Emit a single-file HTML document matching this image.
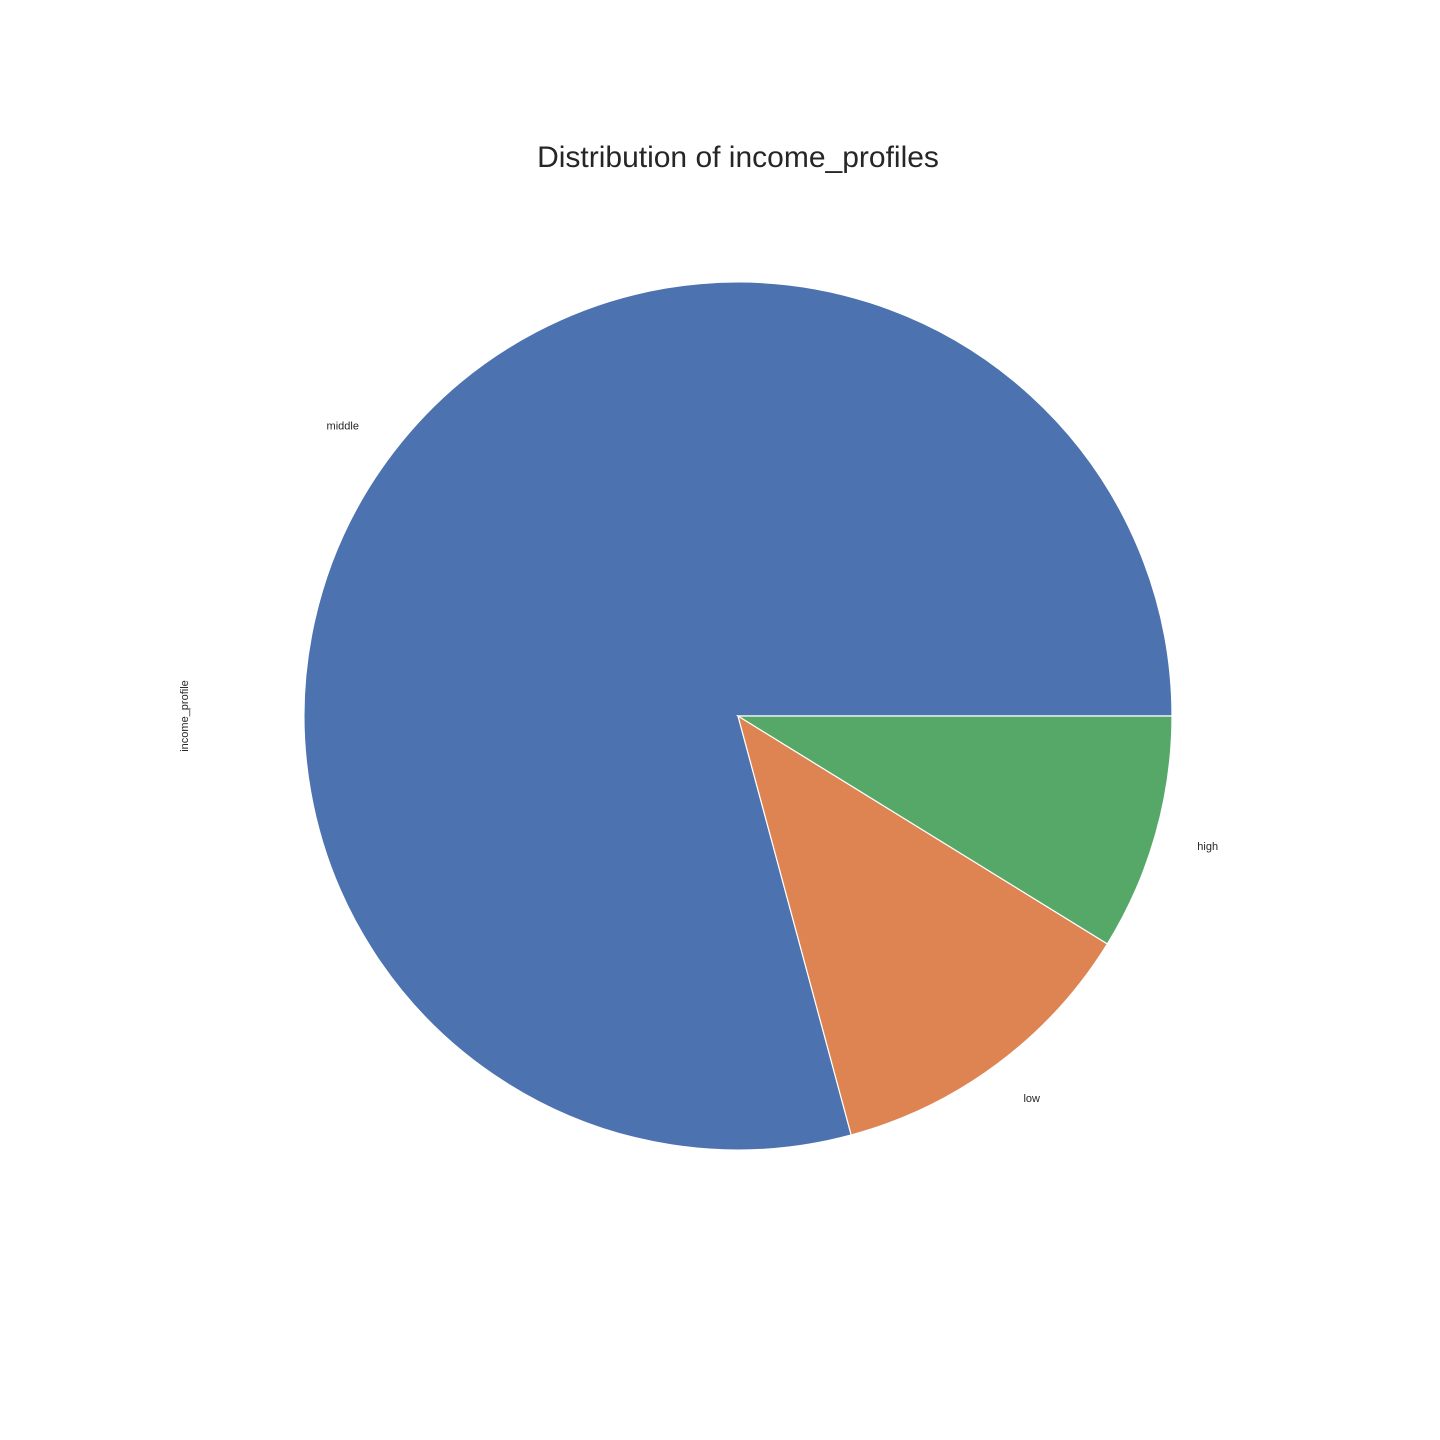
<!DOCTYPE html>
<html><head><meta charset="utf-8"><style>body{margin:0;background:#fff}svg{display:block}text{font-family:"Liberation Sans","DejaVu Sans",sans-serif;fill:#262626}</style></head>
<body>
<svg id="chart" width="1440" height="1440" viewBox="0 0 1440 1440" xmlns="http://www.w3.org/2000/svg">
<rect width="1440" height="1440" fill="#fff"/>
<text x="738" y="167" font-size="30" text-anchor="middle">Distribution of income_profiles</text>
<text transform="translate(188,716) rotate(-90)" font-size="11" text-anchor="middle">income_profile</text>
<g id="slices"></g>
<g id="labels"></g>
</svg>
<script>
const categories = ["middle", "low", "high"];
const values = [79.2, 12.0, 8.8];
const colors = ["#4c72b0", "#dd8452", "#55a868"];
const cx = 738, cy = 716, r = 434;
const total = values.reduce((a, b) => a + b, 0);
const ns = "http://www.w3.org/2000/svg";
const sG = document.getElementById('slices'), lG = document.getElementById('labels');
function pt(a, rad) { return [cx + rad * Math.cos(a), cy - rad * Math.sin(a)]; }
let start = 0;
values.forEach((v, i) => {
  const sweep = v / total * 2 * Math.PI;
  const end = start + sweep;
  const [x1, y1] = pt(start, r), [x2, y2] = pt(end, r);
  const large = sweep > Math.PI ? 1 : 0;
  const p = document.createElementNS(ns, 'path');
  p.setAttribute('d', `M${cx},${cy} L${x1},${y1} A${r},${r} 0 ${large} 0 ${x2},${y2} Z`);
  p.setAttribute('fill', colors[i]);
  p.setAttribute('stroke', '#fff');
  p.setAttribute('stroke-width', '1.2');
  
  
  sG.appendChild(p);
  const mid = (start + end) / 2;
  const [lx, ly] = pt(mid, r * 1.1);
  const t = document.createElementNS(ns, 'text');
  t.setAttribute('x', lx);
  t.setAttribute('y', ly + 3.5);
  t.setAttribute('font-size', '11');
  t.setAttribute('text-anchor', Math.cos(mid) < 0 ? 'end' : 'start');
  t.textContent = categories[i];
  
  
  lG.appendChild(t);
  start = end;
});
</script>
</body></html>
